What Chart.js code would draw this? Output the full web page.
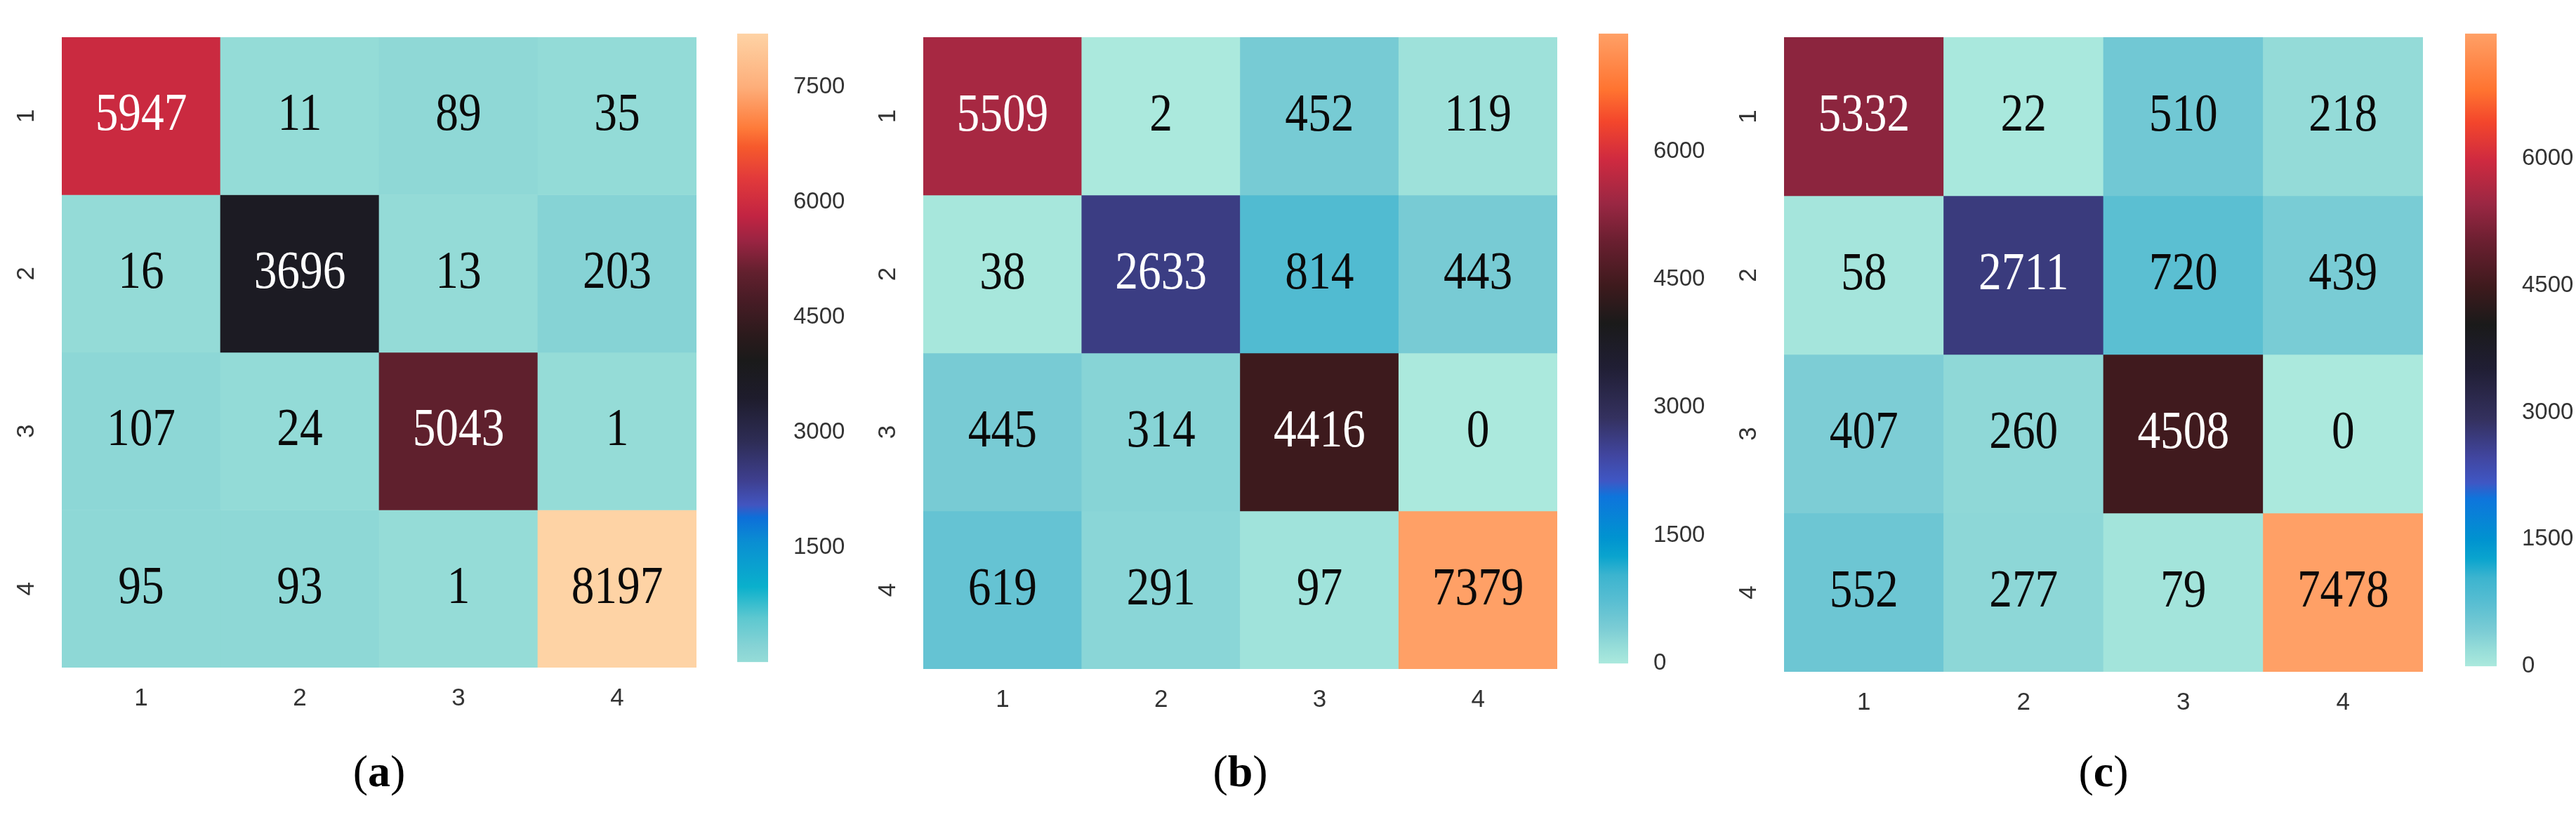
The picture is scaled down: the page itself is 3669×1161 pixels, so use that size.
<!DOCTYPE html>
<html>
<head>
<meta charset="utf-8">
<script src="https://cdn.jsdelivr.net/npm/chart.js@4.4.1/dist/chart.umd.min.js"></script>
<style>
  body { margin: 0; background: #fff; }
  #wrap { position: relative; width: 3669px; height: 1161px; overflow: hidden; background: #fff; }
  canvas { position: absolute; }
  .caption { position: absolute; width: 400px; text-align: center; font-family: 'Liberation Serif', serif; font-size: 64px; line-height: 64px; color: #000; }
</style>
</head>
<body>
<div id="wrap"></div>
<script>
// class labels shared by rows and columns
const classLabels = ['1', '2', '3', '4'];

// confusion matrices, rows = true class, cols = predicted class
const matrixA = [
    [5947, 11, 89, 35],
    [16, 3696, 13, 203],
    [107, 24, 5043, 1],
    [95, 93, 1, 8197]
];
const matrixB = [
    [5509, 2, 452, 119],
    [38, 2633, 814, 443],
    [445, 314, 4416, 0],
    [619, 291, 97, 7379]
];
const matrixC = [
    [5332, 22, 510, 218],
    [58, 2711, 720, 439],
    [407, 260, 4508, 0],
    [552, 277, 79, 7478]
];

// colorbar tick labels
const colorbarTicksA = [1500, 3000, 4500, 6000, 7500];
const colorbarTicksB = [0, 1500, 3000, 4500, 6000];
const colorbarTicksC = [0, 1500, 3000, 4500, 6000];

const captionLetters = ['a', 'b', 'c'];

// icefire-like colour ramps (panel a was exported a bit lighter)
const CMAP_A = [
    [0, '#95dcd7'], [0.025, '#86d3d5'], [0.07, '#5dc8d0'], [0.12, '#0ab0cc'], [0.19, '#0a8fd2'],
    [0.23, '#0d6fd9'], [0.25, '#4255c0'], [0.29, '#3e3f8e'], [0.35, '#2e2d56'], [0.42, '#1e1c2c'],
    [0.48, '#1a1a1a'], [0.52, '#2b1a1c'], [0.58, '#4a1c26'], [0.62, '#62202e'], [0.67, '#9a2442'],
    [0.71, '#c22442'], [0.77, '#e23a3b'], [0.82, '#f65a2c'], [0.85, '#fe7b3a'], [0.915, '#fdae7a'],
    [1, '#fed3a5']
];
const CMAP_BC = [
    [0, '#abe9dd'], [0.03, '#93dbd8'], [0.055, '#7ccdd5'], [0.075, '#6cc6d3'], [0.10, '#58bed2'],
    [0.14, '#3cb4cf'], [0.17, '#0aa4ce'], [0.20, '#0093d0'], [0.265, '#0e75dc'], [0.29, '#3f57c4'],
    [0.33, '#4146a0'], [0.39, '#34315f'], [0.47, '#201e34'], [0.54, '#1a1a1a'], [0.60, '#3e1a1d'],
    [0.67, '#6a1f30'], [0.73, '#9a2743'], [0.80, '#cf2a40'], [0.86, '#f3462c'], [0.91, '#ff7330'],
    [1, '#ffa066']
];

const panels = [
    { matrix: matrixA, cbTicks: colorbarTicksA, cmap: CMAP_A, caption: captionLetters[0],
      heat: { l: 88, t: 32, r: 992, b: 951 }, bar: { l: 1050, r: 1094 } },
    { matrix: matrixB, cbTicks: colorbarTicksB, cmap: CMAP_BC, caption: captionLetters[1],
      heat: { l: 1315, t: 34, r: 2218, b: 953 }, bar: { l: 2277, r: 2319 } },
    { matrix: matrixC, cbTicks: colorbarTicksC, cmap: CMAP_BC, caption: captionLetters[2],
      heat: { l: 2541, t: 33, r: 3451, b: 957 }, bar: { l: 3511, r: 3556 } }
];

const TICK_COLOR = '#333';
const wrap = document.getElementById('wrap');

function hexToRgb(h) {
    return [parseInt(h.slice(1, 3), 16), parseInt(h.slice(3, 5), 16), parseInt(h.slice(5, 7), 16)];
}

function colormap(stops, t) {
    t = Math.max(0, Math.min(1, t));
    for (let i = 1; i < stops.length; i++) {
        if (t <= stops[i][0]) {
            const [t0, c0] = stops[i - 1];
            const [t1, c1] = stops[i];
            const f = (t - t0) / (t1 - t0);
            const a = hexToRgb(c0), b = hexToRgb(c1);
            return a.map((v, k) => Math.round(v + (b[k] - v) * f));
        }
    }
    return hexToRgb(stops[stops.length - 1][1]);
}

function luminance(rgb) {
    const lin = rgb.map(v => {
        v = v / 255;
        return v <= 0.03928 ? v / 12.92 : Math.pow((v + 0.055) / 1.055, 2.4);
    });
    return 0.2126 * lin[0] + 0.7152 * lin[1] + 0.0722 * lin[2];
}

function addCanvas(left, top, width, height) {
    const c = document.createElement('canvas');
    c.width = width;
    c.height = height;
    c.style.left = left + 'px';
    c.style.top = top + 'px';
    c.style.width = width + 'px';
    c.style.height = height + 'px';
    wrap.appendChild(c);
    return c;
}

function makeHeatmap(p, vmin, vmax) {
    const yAxisW = 88, xAxisH = 100, padRight = 8;
    const left = p.heat.l - yAxisW;
    const canvas = addCanvas(left, 0, p.heat.r - left + padRight, p.heat.b + xAxisH);

    const cellRgb = p.matrix.map(row => row.map(v => colormap(p.cmap, (v - vmin) / (vmax - vmin))));

    const datasets = p.matrix.map((row, i) => ({
        label: classLabels[i],
        data: row.map(() => [i, i + 1]),
        backgroundColor: cellRgb[i].map(c => 'rgb(' + c.join(',') + ')'),
        borderWidth: 0,
        barPercentage: 1,
        categoryPercentage: 1,
        grouped: false
    }));

    const cellText = {
        id: 'cellText',
        afterDatasetsDraw(chart) {
            const ctx = chart.ctx;
            chart.data.datasets.forEach((ds, i) => {
                chart.getDatasetMeta(i).data.forEach((bar, j) => {
                    const cy = (bar.y + bar.base) / 2;
                    ctx.save();
                    ctx.translate(bar.x, cy + 20);
                    ctx.scale(0.86, 1);
                    ctx.font = '76px "Liberation Serif"';
                    ctx.textAlign = 'center';
                    ctx.textBaseline = 'alphabetic';
                    ctx.fillStyle = luminance(cellRgb[i][j]) > 0.3 ? '#0a0a0a' : '#fff';
                    ctx.fillText(String(p.matrix[i][j]), 0, 0);
                    ctx.restore();
                });
            });
        }
    };

    new Chart(canvas, {
        type: 'bar',
        data: { labels: classLabels, datasets: datasets },
        plugins: [cellText],
        options: {
            responsive: false,
            animation: false,
            devicePixelRatio: 1,
            layout: { padding: { top: p.heat.t, right: padRight, left: 0, bottom: 0 } },
            plugins: { legend: { display: false }, tooltip: { enabled: false } },
            scales: {
                x: {
                    grid: { display: false },
                    border: { display: false },
                    ticks: { font: { family: 'Liberation Sans', size: 35 }, color: TICK_COLOR, padding: 15 },
                    afterFit: s => { s.height = xAxisH; }
                },
                y: {
                    min: 0,
                    max: classLabels.length,
                    reverse: true,
                    grid: { display: false },
                    border: { display: false },
                    afterBuildTicks: s => { s.ticks = classLabels.map((_, i) => ({ value: i + 0.5 })); },
                    ticks: {
                        callback: (v, i) => classLabels[i],
                        minRotation: 90,
                        maxRotation: 90,
                        crossAlign: 'center',
                        padding: 32,
                        font: { family: 'Liberation Sans', size: 35 },
                        color: TICK_COLOR
                    },
                    afterFit: s => { s.width = yAxisW; }
                }
            }
        }
    });
}

function makeColorbar(p, vmin, vmax) {
    const axisW = 150, padBottom = 40;
    const canvas = addCanvas(p.bar.l, 0, (p.bar.r - p.bar.l) + axisW, p.heat.b + padBottom);

    new Chart(canvas, {
        type: 'bar',
        data: {
            labels: [''],
            datasets: [{
                data: [[vmin, vmax]],
                backgroundColor: c => {
                    const area = c.chart.chartArea;
                    if (!area) return null;
                    const g = c.chart.ctx.createLinearGradient(0, area.bottom, 0, area.top);
                    p.cmap.forEach(([t, col]) => g.addColorStop(t, col));
                    return g;
                },
                borderWidth: 0,
                barPercentage: 1,
                categoryPercentage: 1
            }]
        },
        options: {
            responsive: false,
            animation: false,
            devicePixelRatio: 1,
            layout: { padding: { top: p.heat.t, bottom: padBottom, left: 0, right: 0 } },
            plugins: { legend: { display: false }, tooltip: { enabled: false } },
            scales: {
                x: { display: false },
                y: {
                    position: 'right',
                    min: vmin,
                    max: vmax,
                    grid: { display: false },
                    border: { display: false },
                    afterBuildTicks: s => { s.ticks = p.cbTicks.map(v => ({ value: v })); },
                    ticks: {
                        callback: v => String(v),
                        padding: 28,
                        font: { family: 'Liberation Sans', size: 33 },
                        color: TICK_COLOR
                    },
                    afterFit: s => { s.width = axisW; }
                }
            }
        }
    });
}

function addCaption(p) {
    const d = document.createElement('div');
    d.className = 'caption';
    d.style.left = ((p.heat.l + p.heat.r) / 2 - 200) + 'px';
    d.style.top = '1067px';
    d.innerHTML = '(<b>' + p.caption + '</b>)';
    wrap.appendChild(d);
}

panels.forEach(p => {
    const all = p.matrix.flat();
    const vmin = Math.min(...all);
    const vmax = Math.max(...all);
    makeHeatmap(p, vmin, vmax);
    makeColorbar(p, vmin, vmax);
    addCaption(p);
});
</script>
</body>
</html>
